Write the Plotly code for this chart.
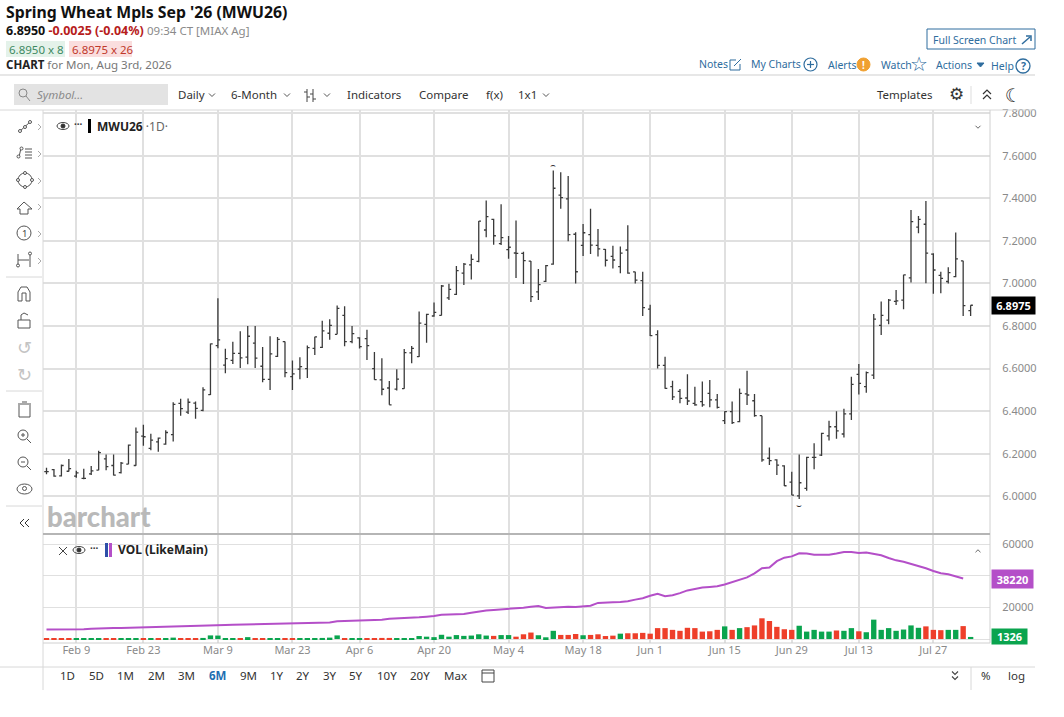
import pandas as pd
import plotly.graph_objects as go

# chart values
closed_days = ["2026-02-16", "2026-04-03", "2026-05-25", "2026-06-19", "2026-07-03"]
dates = [d.strftime("%Y-%m-%d") for d in pd.bdate_range("2026-02-03", "2026-08-03")
         if d.strftime("%Y-%m-%d") not in closed_days]

opens = [6.116, 6.126, 6.096, 6.118, 6.095, 6.085, 6.106, 6.123, 6.176, 6.145,
         6.112, 6.151, 6.145, 6.283, 6.225, 6.256, 6.245, 6.290, 6.437, 6.396,
         6.438, 6.404, 6.478, 6.708, 6.616, 6.639, 6.672, 6.654, 6.720, 6.611,
         6.549, 6.657, 6.727, 6.562, 6.598, 6.600, 6.695, 6.700, 6.766, 6.761,
         6.850, 6.727, 6.744, 6.741, 6.600, 6.547, 6.509, 6.504, 6.506, 6.674,
         6.656, 6.808, 6.847, 6.850, 6.932, 6.949, 7.048, 7.087, 7.104, 7.251,
         7.301, 7.187, 7.159, 7.143, 7.141, 7.105, 6.960, 7.010, 7.091, 7.415,
         7.397, 7.231, 7.179, 7.229, 7.179, 7.160, 7.127, 7.079, 7.157, 7.054,
         7.013, 6.879, 6.760, 6.615, 6.515, 6.493, 6.462, 6.437, 6.445, 6.484,
         6.453, 6.356, 6.398, 6.351, 6.481, 6.449, 6.379, 6.179, 6.171, 6.143,
         6.067, 6.002, 6.038, 6.183, 6.194, 6.284, 6.327, 6.293, 6.387, 6.573,
         6.515, 6.569, 6.803, 6.828, 6.916, 6.922, 7.026, 7.264, 7.278, 7.138,
         7.038, 7.009, 7.032, 7.106, 6.872]
highs = [6.134, 6.129, 6.150, 6.175, 6.120, 6.130, 6.143, 6.214, 6.197, 6.197,
         6.162, 6.244, 6.324, 6.336, 6.294, 6.277, 6.311, 6.442, 6.459, 6.460,
         6.445, 6.512, 6.718, 6.930, 6.693, 6.726, 6.776, 6.800, 6.800, 6.702,
         6.752, 6.749, 6.727, 6.638, 6.653, 6.708, 6.750, 6.825, 6.832, 6.896,
         6.893, 6.800, 6.747, 6.782, 6.678, 6.649, 6.542, 6.597, 6.692, 6.706,
         6.868, 6.858, 6.911, 6.993, 6.998, 7.082, 7.096, 7.137, 7.293, 7.390,
         7.304, 7.372, 7.223, 7.296, 7.149, 7.105, 7.068, 7.087, 7.530, 7.522,
         7.505, 7.240, 7.279, 7.351, 7.256, 7.162, 7.177, 7.173, 7.273, 7.055,
         7.055, 6.900, 6.780, 6.656, 6.543, 6.504, 6.573, 6.515, 6.539, 6.547,
         6.481, 6.400, 6.445, 6.507, 6.590, 6.481, 6.379, 6.230, 6.174, 6.146,
         6.116, 6.197, 6.186, 6.249, 6.299, 6.355, 6.400, 6.412, 6.562, 6.622,
         6.586, 6.857, 6.915, 6.927, 6.969, 7.041, 7.345, 7.317, 7.387, 7.142,
         7.055, 7.076, 7.239, 7.107, 6.897]
lows = [6.104, 6.092, 6.093, 6.117, 6.087, 6.080, 6.100, 6.123, 6.123, 6.098,
        6.107, 6.151, 6.144, 6.238, 6.217, 6.209, 6.242, 6.258, 6.379, 6.387,
        6.365, 6.400, 6.476, 6.696, 6.578, 6.622, 6.603, 6.620, 6.603, 6.536,
        6.500, 6.654, 6.559, 6.500, 6.550, 6.556, 6.664, 6.697, 6.736, 6.761,
        6.705, 6.719, 6.694, 6.640, 6.548, 6.475, 6.430, 6.497, 6.506, 6.625,
        6.655, 6.722, 6.844, 6.849, 6.922, 6.946, 6.993, 7.019, 7.100, 7.217,
        7.182, 7.181, 7.116, 7.026, 6.997, 6.913, 6.922, 7.007, 7.088, 7.351,
        7.198, 7.000, 7.129, 7.138, 7.126, 7.080, 7.070, 7.048, 7.045, 7.000,
        6.847, 6.753, 6.600, 6.506, 6.453, 6.437, 6.429, 6.426, 6.421, 6.418,
        6.413, 6.340, 6.340, 6.348, 6.429, 6.374, 6.163, 6.147, 6.100, 6.049,
        6.005, 5.988, 6.027, 6.127, 6.190, 6.262, 6.271, 6.277, 6.359, 6.479,
        6.487, 6.551, 6.758, 6.808, 6.899, 6.879, 7.004, 7.236, 7.001, 6.951,
        6.954, 7.000, 7.029, 6.847, 6.847]
closes = [6.116, 6.095, 6.145, 6.130, 6.110, 6.085, 6.120, 6.205, 6.140, 6.100,
          6.156, 6.241, 6.302, 6.280, 6.264, 6.274, 6.300, 6.432, 6.412, 6.442,
          6.413, 6.500, 6.716, 6.735, 6.647, 6.672, 6.650, 6.752, 6.649, 6.549,
          6.669, 6.737, 6.581, 6.575, 6.609, 6.699, 6.749, 6.777, 6.803, 6.883,
          6.727, 6.764, 6.703, 6.708, 6.548, 6.503, 6.430, 6.551, 6.675, 6.695,
          6.814, 6.855, 6.864, 6.988, 6.972, 7.060, 7.091, 7.113, 7.293, 7.314,
          7.224, 7.215, 7.170, 7.141, 7.107, 6.938, 6.994, 7.084, 7.447, 7.403,
          7.229, 7.055, 7.238, 7.180, 7.162, 7.109, 7.110, 7.142, 7.048, 7.016,
          6.886, 6.755, 6.615, 6.507, 6.467, 6.460, 6.448, 6.430, 6.430, 6.453,
          6.418, 6.398, 6.346, 6.484, 6.476, 6.379, 6.171, 6.168, 6.147, 6.050,
          6.006, 6.064, 6.183, 6.183, 6.296, 6.327, 6.308, 6.387, 6.526, 6.531,
          6.581, 6.832, 6.850, 6.922, 6.918, 7.040, 7.290, 7.301, 7.142, 7.063,
          7.024, 7.051, 7.115, 6.896, 6.8975]

volumes = [200, 200, 200, 200, 250, 400, 400, 500, 500, 500,
           500, 500, 500, 500, 500, 500, 500, 900, 500, 500,
           500, 700, 2300, 2200, 500, 500, 600, 1200, 500, 500,
           500, 500, 500, 500, 500, 500, 500, 700, 900, 2300,
           500, 500, 500, 500, 500, 700, 700, 500, 500, 500,
           1900, 1500, 1200, 2700, 1500, 2500, 2000, 2200, 3000, 2200,
           2000, 2500, 2500, 1500, 3000, 4100, 2400, 1100, 5200, 2600,
           2600, 3200, 2400, 2600, 3000, 1900, 2150, 3400, 3650, 3650,
           3900, 3400, 6900, 6900, 5800, 5200, 7100, 6900, 4700, 4900,
           5800, 8000, 5800, 6900, 7500, 8600, 13100, 11400, 7700, 6200,
           5800, 8400, 4700, 5800, 4700, 4700, 5400, 5200, 6900, 4900,
           4300, 12250, 5800, 6900, 5200, 6000, 8600, 7100, 8000, 5800,
           5600, 5800, 5800, 8170, 1326]
vol_up = [0, 0, 0, 0, 1, 1, 1, 1, 0, 0,
          1, 1, 1, 0, 1, 0, 1, 1, 0, 0,
          0, 1, 1, 1, 1, 1, 0, 1, 0, 0,
          1, 1, 0, 0, 1, 1, 1, 1, 1, 1,
          0, 1, 1, 0, 0, 0, 0, 1, 1, 1,
          1, 1, 1, 1, 1, 1, 1, 1, 1, 1,
          0, 1, 1, 0, 0, 0, 1, 1, 1, 0,
          0, 0, 1, 0, 0, 0, 0, 1, 0, 0,
          0, 0, 0, 0, 0, 0, 0, 0, 0, 0,
          0, 1, 0, 1, 0, 0, 0, 0, 0, 0,
          0, 1, 1, 1, 1, 1, 0, 1, 1, 0,
          1, 1, 1, 1, 1, 1, 1, 1, 0, 0,
          0, 1, 1, 0, 1]
vol_avg = [6000, 6000, 6050, 6100, 6150, 6200, 6500, 6800, 6850, 6950,
           7050, 7150, 7260, 7350, 7450, 7600, 7700, 7800, 7850, 7950,
           8000, 8100, 8300, 8500, 8800, 9000, 9100, 9250, 9400, 9500,
           9700, 9900, 10050, 10200, 10200, 10250, 10350, 10400, 10450, 11300,
           11400, 11500, 11550, 11600, 11700, 12200, 12800, 12950, 13100, 13200,
           13700, 14100, 14500, 15400, 15500, 15600, 15800, 16600, 17500, 18000,
           18400, 18700, 18900, 19200, 19800, 20400, 20900, 19600, 20000, 20400,
           20400, 20200, 20600, 21000, 22800, 22800, 23200, 23400, 23900, 24900,
           25800, 27300, 28600, 27100, 27700, 29000, 30700, 31600, 32500, 32900,
           33300, 34400, 35900, 37400, 38900, 41500, 44700, 45100, 49200, 51400,
           52200, 54200, 54000, 53300, 53300, 53300, 54000, 55000, 55000, 54400,
           54600, 53700, 52900, 51200, 49700, 48800, 47500, 46000, 44700, 43000,
           41500, 40900, 39800, 38220, None]

date_ticks = ["2026-02-09", "2026-02-23", "2026-03-09", "2026-03-23", "2026-04-06",
              "2026-04-20", "2026-05-04", "2026-05-18", "2026-06-01", "2026-06-15",
              "2026-06-29", "2026-07-13", "2026-07-27"]
date_labels = ["Feb 9", "Feb 23", "Mar 9", "Mar 23", "Apr 6", "Apr 20", "May 4",
               "May 18", "Jun 1", "Jun 15", "Jun 29", "Jul 13", "Jul 27"]
price_ticks = [6.0, 6.2, 6.4, 6.6, 6.8, 7.0, 7.2, 7.4, 7.6, 7.8]
vol_ticks = [0, 20000, 40000, 60000]
# 0 and 40000 sit behind the value tags in the original
vol_tick_labels = ["", "20000", "", "60000"]

WIDTH, HEIGHT = 1064, 717
GRID = "#e0e0e0"
GREY = "#8a8a8a"
DARK = "#333333"
BLUE = "#2f6d9e"
GREEN = "#0aa44e"
RED = "#ee3f2a"
PURPLE = "#b44fc8"
FONT = "Noto Sans"


def X(x):
    return x / WIDTH


def Y(y):
    return 1 - y / HEIGHT


shapes = []
notes = []


def line(x0, y0, x1, y1, color="#d0d0d0", w=1):
    shapes.append(dict(type="line", xref="paper", yref="paper", x0=X(x0), y0=Y(y0), x1=X(x1), y1=Y(y1),
                       line=dict(color=color, width=w)))


def poly(points, color="#444444", w=1, closed=False, fill=None):
    path = "M " + " L ".join(f"{X(a):.5f} {Y(b):.5f}" for a, b in points) + (" Z" if closed else "")
    shapes.append(dict(type="path", xref="paper", yref="paper", path=path, fillcolor=fill,
                       line=dict(color=color, width=w)))


def oval(x0, y0, x1, y1, color="#444444", w=1, fill=None):
    shapes.append(dict(type="circle", xref="paper", yref="paper", x0=X(x0), y0=Y(y0), x1=X(x1), y1=Y(y1),
                       fillcolor=fill, line=dict(color=color, width=w)))


def box(x0, y0, x1, y1, color=None, w=1, fill=None):
    shapes.append(dict(type="rect", xref="paper", yref="paper", x0=X(x0), y0=Y(y0), x1=X(x1), y1=Y(y1),
                       fillcolor=fill, line=dict(color=color or "rgba(0,0,0,0)", width=w)))


def label(x, y, s, size=11.5, color=DARK, anchor="left", family=FONT, weight=None):
    font = dict(size=size, color=color, family=family)
    if weight:
        font["weight"] = weight
    notes.append(dict(xref="paper", yref="paper", x=X(x), y=Y(y), text=s, showarrow=False, xanchor=anchor,
                      yanchor="middle", borderpad=0, font=font))


def chevron(x, y, s=3, color="#555555", up=False, w=1):
    d = -s if up else s
    poly([(x - s, y - d / 2), (x, y + d / 2), (x + s, y - d / 2)], color, w)


def eye(x, y):
    oval(x - 6, y - 3.5, x + 6, y + 3.5, "#444444", 1)
    oval(x - 2, y - 2, x + 2, y + 2, "#333333", 1, "#333333")


fig = go.Figure()

fig.add_trace(go.Ohlc(x=dates, open=opens, high=highs, low=lows, close=closes, xaxis="x", yaxis="y",
                      increasing_line_color="#3a3a3a", decreasing_line_color="#3a3a3a",
                      line_width=1.3, tickwidth=0.3, hoverinfo="skip"))
fig.add_trace(go.Bar(x=dates, y=volumes, xaxis="x2", yaxis="y2", width=0.72,
                     marker=dict(color=[GREEN if u else RED for u in vol_up], line_width=0), hoverinfo="skip"))
fig.add_trace(go.Scatter(x=dates, y=vol_avg, xaxis="x2", yaxis="y2", mode="lines",
                         line=dict(color=PURPLE, width=2), hoverinfo="skip"))

# frame and dividers
line(0, 75, 1035, 75, "#cfcfcf")
line(0, 110, 1035, 110, "#d8d8d8")
line(0, 667, 1035, 667, "#d8d8d8")
line(43, 110, 43, 690, "#d8d8d8")
line(990, 110, 990, 643, "#d0d0d0")
line(43, 534, 990, 534, "#b5b5b5", 2)
line(43, 643, 990, 643, "#d0d0d0")

# header text
label(5, 12, "<b>Spring Wheat Mpls Sep '26 (MWU26)</b>", 15.8, "#111111")
label(5, 30, "<b>6.8950</b> <b style='color:#b71c1c'>-0.0025 (-0.04%)</b> "
             "<span style='color:#8a8a8a;font-size:11.5px'>09:34 CT [MIAX Ag]</span>", 12.5, "#111111")
box(6, 41, 65, 57, fill="#e4f2ea")
box(69, 41, 132, 57, fill="#fadede")
label(8, 49, "6.8950 x 8", 11.5, "#3d8a63")
label(71, 49, "6.8975 x 26", 11.5, "#c0392b")
label(5, 65, "<b>CHART</b> <span style='color:#777777'>for Mon, Aug 3rd, 2026</span>", 11.5, "#222222")

# top right links
box(927, 29, 1035, 49, BLUE, 1)
label(932, 40, "Full Screen Chart", 10.5, BLUE)
line(1022, 44, 1030, 37, BLUE, 1.5)
poly([(1026, 36), (1031, 36), (1031, 41)], BLUE, 1.5)
label(698, 64, "Notes", 10.5, BLUE)
poly([(740, 64), (740, 70), (730, 70), (730, 60), (736, 60)], BLUE, 1)
line(734, 66, 741, 59, BLUE, 1)
label(750, 64, "My Charts", 10.5, BLUE)
oval(804, 58, 817, 71, BLUE, 1.2)
line(807, 64.5, 814, 64.5, BLUE, 1.2)
line(810.5, 61, 810.5, 68, BLUE, 1.2)
label(827, 65, "Alerts", 10.5, BLUE)
oval(857, 58, 870, 71, "#f0a030", 1, "#f0a030")
label(863.5, 64.5, "<b>!</b>", 10, "#ffffff", "center")
label(880, 65, "Watch", 10.5, BLUE)
label(919, 64, "☆", 20, BLUE, "center", "DejaVu Sans")
label(935, 65, "Actions", 10.5, BLUE)
poly([(977, 63), (984, 63), (980.5, 67)], BLUE, 1, True, BLUE)
label(990, 66, "Help", 10.5, BLUE)
oval(1016, 59, 1030, 73, BLUE, 1.3)
label(1023, 66, "<b>?</b>", 10.5, BLUE, "center")

# toolbar
box(14, 84, 168, 105, fill="#e3e3e3")
oval(19, 89, 27, 97, "#888888", 1)
line(26, 96, 30, 101, "#888888")
label(36, 94.5, "<i>Symbol...</i>", 11.5, "#8a8a8a")
label(176.5, 94.5, "Daily", 11.5)
chevron(212, 95)
label(229.5, 94.5, "6-Month", 11.5)
chevron(287, 95)
line(307, 89, 307, 102, "#444444")
line(313, 89, 313, 102, "#444444")
line(304, 92, 307, 92, "#444444")
line(307, 97, 310, 97, "#444444")
line(310, 94, 313, 94, "#444444")
line(313, 99, 316, 99, "#444444")
chevron(327, 95)
label(346, 94.5, "Indicators", 11.5)
label(418, 94.5, "Compare", 11.5)
label(485, 94.5, "f(x)", 11.5)
label(517, 94.5, "1x1", 11.5)
chevron(546, 95)
label(875.5, 94.5, "Templates", 11.5)
label(956, 94, "⚙", 17, "#333333", "center", "DejaVu Sans")
line(971, 86, 971, 104, "#dddddd")
chevron(987, 92, 4, "#333333", True, 1.2)
chevron(987, 97, 4, "#333333", True, 1.2)
label(1013, 95, "☾", 19, "#333333", "center", "DejaVu Sans")

# left drawing tools
ink = "#555555"
poly([(19, 132), (30, 122)], ink)
for cx, cy in [(20, 131), (25, 127), (30, 122)]:
    oval(cx - 1.5, cy - 1.5, cx + 1.5, cy + 1.5, ink, 1, "#ffffff")
poly([(19, 157), (21, 148)], ink)
oval(17, 155, 20, 158, ink, 1, "#ffffff")
oval(20, 147, 23, 150, ink, 1, "#ffffff")
for yy in [149, 152, 155, 158]:
    line(25, yy, 32, yy, ink)
oval(18, 173, 32, 187, ink)
for cx, cy in [(25, 173), (18, 180), (32, 180), (25, 187)]:
    oval(cx - 1.5, cy - 1.5, cx + 1.5, cy + 1.5, ink, 1, "#ffffff")
poly([(24, 202), (32, 209), (28, 209), (28, 214), (20, 214), (20, 209), (17, 209)], ink, 1, True)
oval(17, 226, 31, 240, ink)
label(24, 233, "1", 9.5, "#444444", "center")
line(18, 254, 18, 267, ink)
line(30, 254, 30, 267, ink)
line(18, 260, 29, 260, ink)
oval(28.5, 252, 31.5, 255, ink, 1, "#ffffff")
oval(16.5, 264, 19.5, 267, ink, 1, "#ffffff")
for yy in [127, 154, 181, 207, 234, 261]:
    poly([(38, yy - 3), (41, yy), (38, yy + 3)], "#aaaaaa")
line(6, 277, 42, 277, "#d8d8d8")
poly([(18, 301), (18, 292), (21, 287), (27, 287), (30, 292), (30, 301), (26, 301), (26, 293), (22, 293), (22, 301)], ink, 1, True)
box(18, 320, 30, 328, ink)
poly([(21, 320), (21, 315), (24, 313), (28, 315)], ink)
label(24, 348, "↺", 18, "#c4c4c4", "center", "DejaVu Sans")
label(24, 374, "↻", 18, "#c4c4c4", "center", "DejaVu Sans")
line(6, 391, 42, 391, "#d8d8d8")
poly([(19, 405), (19, 417), (30, 417), (30, 405)], ink)
line(18, 404, 31, 404, ink)
line(22, 402, 27, 402, ink)
oval(18, 430, 28, 440, ink)
line(27, 439, 31, 443, ink)
line(21, 435, 25, 435, ink)
line(23, 433, 23, 437, ink)
oval(18, 457, 28, 467, ink)
line(27, 466, 31, 470, ink)
line(21, 462, 25, 462, ink)
oval(17, 484, 32, 494, ink)
oval(22.5, 486.5, 26.5, 490.5, ink)
line(6, 506, 42, 506, "#d8d8d8")
poly([(24, 519), (20, 523), (24, 527)], "#333333")
poly([(29, 519), (25, 523), (29, 527)], "#333333")

# pane legends
eye(63, 126)
label(78, 124, "<b>···</b>", 10, "#333333", "center")
box(88, 119, 91, 133, fill="#000000")
label(96, 126, "<b>MWU26</b> <span style='color:#666666'>·1D·</span>", 12, "#222222")
chevron(978, 127, 2.5, "#666666")
line(59, 547, 67, 555, "#444444")
line(67, 547, 59, 555, "#444444")
eye(79, 550)
label(94, 548, "<b>···</b>", 10, "#333333", "center")
box(105, 543, 108, 557, fill="#2e4fa8")
box(109, 543, 112, 557, fill=PURPLE)
label(117, 549, "<b>VOL (LikeMain)</b>", 12, "#222222")
chevron(978, 551, 2.5, "#666666", True)

label(46, 516, "barchart", 27.5, "#b9b9b9", "left", "Lato", 900)

# bottom range buttons
for xx, s in zip([67, 96, 125, 156, 186, 248, 277, 303, 330, 356, 387, 420, 455],
                 ["1D", "5D", "1M", "2M", "3M", "9M", "1Y", "2Y", "3Y", "5Y", "10Y", "20Y", "Max"]):
    label(xx, 675.5, s, 11.5, DARK, "center")
label(217, 675.5, "<b>6M</b>", 11.5, "#1f6fb2", "center")
box(482, 670, 494, 682, "#444444")
line(482, 673, 494, 673, "#444444")
chevron(955, 673, 3, "#444444", False, 1.1)
chevron(955, 678, 3, "#444444", False, 1.1)
line(971, 667, 971, 690, "#d8d8d8")
label(986, 675.5, "%", 11.5, DARK, "center")
label(1016, 675.5, "log", 11.5, DARK, "center")

# last value tags and high / low marks
notes.append(dict(xref="paper", yref="y", x=X(991), y=closes[-1], text="<b>6.8975</b>", showarrow=False,
                  xanchor="left", yanchor="middle", width=43, height=17, bgcolor="#000000", borderpad=0,
                  font=dict(size=11, color="#ffffff", family=FONT)))
notes.append(dict(xref="paper", yref="y2", x=X(991), y=vol_avg[-2], text="<b>38220</b>", showarrow=False,
                  xanchor="left", yanchor="middle", width=41, height=18, bgcolor=PURPLE, borderpad=0,
                  font=dict(size=11, color="#ffffff", family=FONT)))
notes.append(dict(xref="paper", yref="y2", x=X(991), y=volumes[-1], text="<b>1326</b>", showarrow=False,
                  xanchor="left", yanchor="middle", width=35, height=15, bgcolor=GREEN, borderpad=0,
                  font=dict(size=11, color="#ffffff", family=FONT)))
notes.append(dict(xref="x", yref="y", x=dates[68], y=highs[68], text="⌢", showarrow=False, yanchor="bottom",
                  borderpad=0, font=dict(size=9, color="#333333", family="DejaVu Sans")))
notes.append(dict(xref="x", yref="y", x=dates[101], y=lows[101], text="⌣", showarrow=False, yanchor="top",
                  borderpad=0, font=dict(size=9, color="#333333", family="DejaVu Sans")))

tick_font = dict(size=11, color=GREY, family=FONT)
fig.update_layout(
    width=WIDTH, height=HEIGHT, margin=dict(l=0, r=0, t=0, b=0, autoexpand=False),
    paper_bgcolor="#ffffff", plot_bgcolor="#ffffff", showlegend=False, font=dict(family=FONT),
    shapes=shapes, annotations=notes, hovermode=False,
    xaxis=dict(domain=[X(43), X(990)], type="category", categoryorder="array", categoryarray=dates,
               range=[-0.47, 126.6], tickmode="array", tickvals=date_ticks, showticklabels=False,
               showgrid=True, gridcolor=GRID, gridwidth=1.5, ticklen=0, rangeslider=dict(visible=False),
               anchor="y", zeroline=False, automargin=False),
    yaxis=dict(domain=[Y(533), Y(110)], side="right", range=[5.828, 7.8145], tickmode="array",
               tickvals=price_ticks, tickformat=".4f", tickfont=tick_font, showgrid=True, gridcolor=GRID,
               gridwidth=1.5, ticks="outside", ticklen=9, tickcolor="#ffffff", anchor="x", zeroline=False,
               automargin=False),
    xaxis2=dict(domain=[X(43), X(990)], type="category", categoryorder="array", categoryarray=dates,
                range=[-0.47, 126.6], tickmode="array", tickvals=date_ticks, ticktext=date_labels,
                tickfont=tick_font, showgrid=True, gridcolor=GRID, gridwidth=1.5, ticks="", ticklabelstandoff=-1,
                anchor="y2", matches="x", zeroline=False, automargin=False),
    yaxis2=dict(domain=[Y(643), Y(535)], side="right", range=[-2500, 65700], tickmode="array",
                tickvals=vol_ticks, ticktext=vol_tick_labels, tickfont=tick_font, showgrid=True, gridcolor=GRID,
                gridwidth=1, ticks="outside", ticklen=9, tickcolor="#ffffff", anchor="x2", zeroline=False,
                automargin=False),
)

# the page's default body margin would push the figure out of the window
fig.write_html("out.html", config={"displayModeBar": False}, post_script="document.body.style.margin = '0';")
